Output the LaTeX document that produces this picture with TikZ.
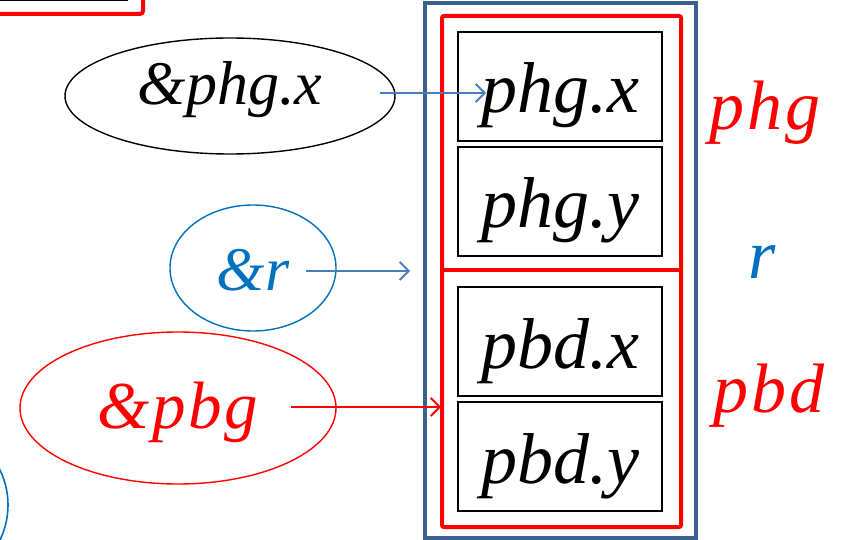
\documentclass[tikz,border=0pt]{standalone}
\usepackage{fontspec}
\setmainfont{Liberation Serif}[ItalicFont={Liberation Serif Italic}]
\usetikzlibrary{shapes.geometric,arrows.meta}
\definecolor{boxblue}{HTML}{3B5F8F}
\definecolor{txtblue}{HTML}{0070C0}
\definecolor{arrblue}{HTML}{4A7EBB}
\definecolor{pred}{HTML}{FF0000}
\tikzset{
  cell/.style={draw=black, line width=1.4pt, minimum width=204pt, minimum height=109pt, inner sep=0pt,
    text height=60pt, text depth=7pt, font=\fontsize{72}{72}\selectfont\itshape},
  oval/.style={ellipse, line width=1.4pt, inner sep=0pt, font=\fontsize{62}{62}\selectfont\itshape},
  side/.style={inner sep=0pt, anchor=base, font=\fontsize{70}{70}\selectfont\itshape\addfontfeature{LetterSpace=4}},
  arr/.style={line width=1.8pt, -{Straight Barb[length=9pt,width=18pt,line width=1.8pt]}},
}
\begin{document}
\begin{tikzpicture}[x=1pt,y=-1pt]
\useasboundingbox (0,0) rectangle (843,540);
% partial shapes at the edges
\draw[pred, line width=4pt, rounded corners=3pt] (-20,-20) rectangle (143,14);
\draw[black, line width=1.6pt] (-20,-20) rectangle (127,0);
\draw[txtblue, line width=1.6pt] (-72,505) circle (80);
% containers
\draw[boxblue, line width=4pt] (425,3) rectangle (696,538);
\draw[pred, line width=4pt, rounded corners=2pt] (442,16) rectangle (681,527);
\coordinate (dl) at (442,270);
\coordinate (dr) at (681,270);
\draw[pred, line width=4pt] (dl) -- (dr);
% cells
\node[cell] (b1) at (560,86.5) {phg.x};
\node[cell] (b2) at (560,201.5) {phg.y};
\node[cell] (b3) at (560,341.5) {pbd.x};
\node[cell] (b4) at (560,456.5) {pbd.y};
% side labels
\node[side, text=pred] (l1) at (765,130) {phg};
\node[side, text=txtblue] (l2) at (762,278) {r};
\node[side, text=pred] (l3) at (769,412) {pbd};
% ovals
\node[oval, draw=black, minimum width=330pt, minimum height=116pt, text height=42pt, text depth=24pt] (e1) at (230,96) {\&phg.x};
\node[oval, draw=txtblue, text=txtblue, minimum width=166pt, minimum height=126pt, text height=54pt, text depth=10pt] (e2) at (253,268) {\&r};
\node[oval, draw=pred, text=pred, minimum width=316pt, minimum height=152pt, text height=60pt, text depth=20pt,
  font=\fontsize{67}{67}\selectfont\itshape\addfontfeature{LetterSpace=4}] (e3) at (178,408) {\&pbg};
% arrows
\coordinate (s1) at (380,93);
\coordinate (t1) at (486,93);
\coordinate (s2) at (306,271);
\coordinate (t2) at (410,271);
\coordinate (s3) at (291,407);
\coordinate (t3) at (441,407);
\draw[arr, arrblue] (s1) -- (t1);
\draw[arr, arrblue] (s2) -- (t2);
\draw[arr, pred] (s3) -- (t3);
\end{tikzpicture}
\end{document}
